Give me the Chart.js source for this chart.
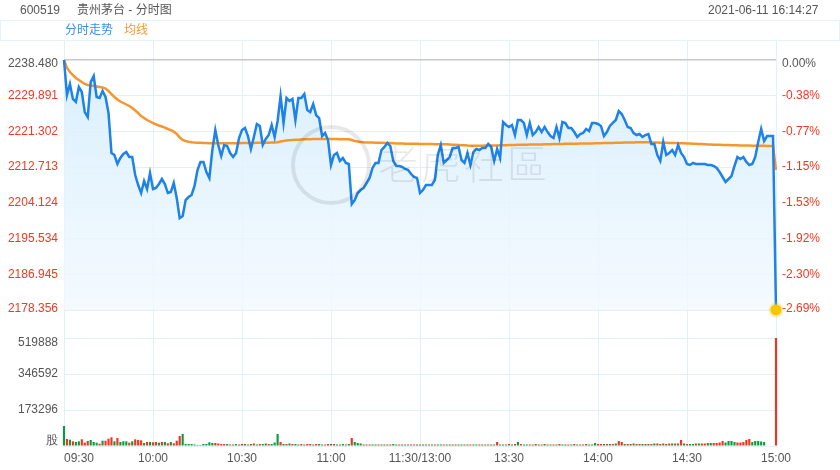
<!DOCTYPE html>
<html><head><meta charset="utf-8">
<script src="https://cdn.jsdelivr.net/npm/chart.js@4.4.1/dist/chart.umd.min.js"></script>
<style>
html,body{margin:0;padding:0;background:#fff;}
#wrap{position:relative;width:840px;height:470px;overflow:hidden;font-family:Arial,"Liberation Sans","Noto Sans CJK SC",sans-serif;}
canvas{position:absolute;left:0;top:0;}
.t{position:absolute;font-size:12px;line-height:14px;white-space:nowrap;}
#legendBar{position:absolute;left:0;top:20px;width:838px;height:19px;border:1px solid #e4f2fa;}
#wmCircle{position:absolute;left:291px;top:125px;width:72px;height:72px;border:4px solid rgba(0,0,0,0.09);border-radius:50%;}
#wmText{position:absolute;left:378px;top:138px;font-size:40px;line-height:48px;letter-spacing:3px;color:rgba(0,0,0,0.09);font-family:"Noto Sans CJK SC",sans-serif;font-weight:300;}
</style></head>
<body><div id="wrap">
<canvas id="c" width="840" height="470"></canvas>
<div id="legendBar"></div>
<div class="t" style="left:20px;top:3px;color:#555">600519</div>
<div class="t" style="left:77px;top:3px;color:#555">贵州茅台 - 分时图</div>
<div class="t" style="left:708px;top:3px;color:#555">2021-06-11 16:14:27</div>
<div class="t" style="left:65px;top:23px;color:#3a8ee6">分时走势</div>
<div class="t" style="left:124px;top:23px;color:#f39c32">均线</div>
<div id="wmCircle"></div>
<div id="wmText">老虎社區</div>
</div>
<script>
const preClose = 2238.48;
const priceTicks = [2238.480, 2229.891, 2221.302, 2212.713, 2204.124, 2195.534, 2186.945, 2178.356];
const pctLabels = ['0.00%', '-0.38%', '-0.77%', '-1.15%', '-1.53%', '-1.92%', '-2.30%', '-2.69%'];
const volTicks = [0, 173296, 346592, 519888];
const volTickLabels = ['股', '173296', '346592', '519888'];
const timeTickLabels = ['09:30', '10:00', '10:30', '11:00', '11:30/13:00', '13:30', '14:00', '14:30', '15:00'];

const price = [
2238.48,2230.06,2232.71,2229.10,2228.38,2231.99,2230.78,2225.97,2224.77,2233.19,
2234.63,2229.58,2229.34,2231.02,2229.58,2225.73,2216.11,2215.63,2213.47,2214.91,
2215.87,2216.35,2215.15,2215.15,2210.82,2208.42,2206.49,2209.38,2207.46,2211.30,
2207.46,2207.70,2208.66,2209.86,2208.66,2206.49,2206.73,2208.90,2205.29,2200.48,
2200.96,2204.81,2205.53,2206.01,2208.18,2212.02,2213.95,2213.95,2211.54,2210.10,
2216.83,2221.64,2218.04,2215.39,2218.04,2217.80,2216.11,2215.15,2216.11,2219.72,
2221.64,2222.13,2220.20,2217.08,2219.96,2223.09,2222.61,2218.04,2219.48,2220.44,
2222.85,2219.96,2223.81,2229.82,2223.33,2229.34,2228.62,2229.10,2224.05,2229.34,
2229.34,2230.30,2226.45,2225.97,2227.90,2225.25,2224.53,2220.20,2220.92,2219.24,
2213.23,2215.63,2216.11,2214.19,2214.91,2213.71,2213.47,2203.85,2204.81,2206.49,
2207.21,2207.70,2208.90,2210.10,2212.51,2213.71,2213.71,2216.83,2217.56,2218.52,
2217.80,2214.19,2212.99,2212.99,2212.75,2212.27,2212.02,2211.06,2210.34,2210.10,
2206.49,2207.21,2208.42,2208.42,2208.42,2209.62,2215.63,2218.04,2213.71,2214.43,
2215.15,2217.32,2217.32,2217.56,2214.43,2213.71,2216.11,2213.23,2216.35,2217.08,
2216.83,2217.32,2217.32,2218.28,2217.56,2214.19,2217.08,2214.91,2223.57,2222.85,
2222.37,2222.85,2220.44,2224.05,2224.05,2223.33,2220.44,2223.33,2220.44,2221.16,
2222.37,2221.16,2222.37,2221.16,2220.20,2219.72,2222.37,2219.72,2223.57,2223.33,
2222.13,2222.13,2221.16,2219.96,2220.68,2220.92,2221.89,2221.40,2223.33,2223.33,
2223.09,2222.61,2220.20,2221.16,2222.61,2223.33,2224.05,2226.21,2225.49,2224.05,
2222.37,2222.13,2220.92,2220.44,2220.68,2219.96,2220.44,2220.68,2218.28,2218.28,
2215.63,2214.19,2218.76,2215.63,2216.11,2216.83,2215.63,2218.04,2216.11,2215.15,
2213.47,2213.23,2213.71,2213.47,2213.47,2213.47,2213.47,2213.23,2213.23,2212.99,
2212.51,2211.54,2210.34,2209.14,2209.86,2210.58,2212.99,2215.15,2214.67,2215.15,
2213.95,2213.23,2213.47,2215.15,2218.76,2221.89,2219.00,2220.20,2220.20,2220.20,
2178.36];

const avgPrice = [
2238.48,2236.56,2235.59,2234.87,2234.15,2233.67,2233.19,2232.71,2232.47,2232.35,
2232.23,2232.11,2231.99,2231.87,2231.63,2231.02,2230.30,2229.58,2228.98,2228.50,
2228.14,2227.78,2227.42,2226.94,2226.33,2225.73,2225.01,2224.53,2224.05,2223.69,
2223.33,2223.02,2222.73,2222.49,2222.20,2221.89,2221.60,2221.28,2220.68,2219.84,
2219.24,2219.00,2218.83,2218.71,2218.64,2218.59,2218.57,2218.52,2218.52,2218.47,
2218.45,2218.45,2218.45,2218.44,2218.44,2218.44,2218.44,2218.45,2218.45,2218.47,
2218.49,2218.52,2218.52,2218.52,2218.53,2218.55,2218.57,2218.57,2218.58,2218.60,
2218.62,2218.64,2218.69,2218.88,2219.00,2219.10,2219.17,2219.24,2219.28,2219.32,
2219.36,2219.40,2219.42,2219.44,2219.46,2219.48,2219.48,2219.48,2219.48,2219.48,
2219.46,2219.46,2219.46,2219.44,2219.44,2219.42,2219.42,2219.24,2219.00,2218.86,
2218.76,2218.70,2218.66,2218.64,2218.62,2218.60,2218.58,2218.56,2218.54,2218.52,
2218.50,2218.46,2218.42,2218.40,2218.38,2218.36,2218.35,2218.34,2218.33,2218.33,
2218.30,2218.28,2218.27,2218.26,2218.25,2218.24,2218.23,2218.23,2218.22,2218.20,
2218.16,2218.12,2218.08,2218.04,2218.00,2217.95,2217.90,2217.88,2217.88,2217.88,
2217.88,2217.88,2217.89,2217.89,2217.90,2217.90,2217.92,2217.95,2217.98,2218.00,
2218.02,2218.04,2218.06,2218.08,2218.09,2218.10,2218.12,2218.13,2218.14,2218.15,
2218.16,2218.18,2218.20,2218.22,2218.23,2218.25,2218.26,2218.28,2218.30,2218.31,
2218.33,2218.34,2218.35,2218.36,2218.37,2218.38,2218.39,2218.40,2218.42,2218.43,
2218.45,2218.47,2218.49,2218.50,2218.52,2218.54,2218.56,2218.58,2218.60,2218.62,
2218.64,2218.65,2218.66,2218.67,2218.68,2218.69,2218.68,2218.67,2218.66,2218.64,
2218.62,2218.60,2218.58,2218.56,2218.54,2218.52,2218.50,2218.48,2218.46,2218.43,
2218.40,2218.37,2218.34,2218.31,2218.28,2218.25,2218.22,2218.18,2218.14,2218.11,
2218.09,2218.07,2218.05,2218.04,2218.02,2217.99,2217.97,2217.95,2217.93,2217.92,
2217.92,2217.90,2217.88,2217.87,2217.86,2217.85,2217.84,2217.82,2217.81,2217.80,
2212.03];

const volume = [
96300,33700,30300,22600,19300,22600,32300,15900,24100,28900,
19300,15900,11100,25500,25500,35100,41900,22600,38500,19300,
22600,22600,15900,22600,32300,28900,27400,14400,19300,19300,
17800,19300,15900,19300,19300,13000,19300,13000,25500,48100,
57800,9600,9600,9600,7200,4800,4800,9600,9600,17800,
14400,14400,12000,9600,9600,9600,7200,7200,9600,7200,
9600,9600,7200,9600,12000,7200,9600,9600,12000,9600,
9600,16800,57800,19300,9600,9600,12000,9600,9600,7200,
9600,7200,9600,9600,7200,9600,9600,7200,7200,9600,
9600,9600,7200,7200,9600,7200,9600,38500,19300,14400,
12000,7200,7200,7200,7200,7200,7200,7200,7200,7200,
7200,9600,7200,7200,7200,7200,7200,7200,7200,7200,
7200,7200,7200,7200,7200,7200,7200,7200,7200,7200,
7200,7200,7200,7200,7200,7200,7200,7200,7200,7200,
7200,7200,7200,7200,7200,7200,19300,7200,7200,7200,
9600,7200,9600,19300,9600,7200,7200,7200,7200,9600,
7200,7200,9600,7200,7200,7200,7200,9600,7200,7200,
7200,7200,9600,7200,7200,7200,9600,7200,7200,14400,
9600,9600,9600,9600,9600,9600,12000,24100,19300,9600,
9600,9600,12000,9600,9600,9600,9600,9600,9600,12000,
12000,9600,12000,9600,12000,12000,12000,12000,28900,12000,
9600,9600,9600,12000,12000,12000,12000,14400,14400,14400,
14400,16800,24100,16800,24100,24100,19300,16800,16800,19300,
28900,33700,19300,24100,24100,21700,19300,0,0,0,
519888];

const volDir = [
-1,1,-1,1,-1,-1,1,1,1,-1,
-1,-1,1,-1,1,1,1,-1,1,-1,
-1,-1,1,-1,1,1,1,-1,1,-1,
1,1,-1,1,-1,1,-1,1,1,1,
-1,-1,-1,-1,-1,1,1,-1,-1,-1,
-1,1,1,1,1,-1,1,-1,-1,1,
1,-1,1,-1,1,-1,1,-1,-1,1,
-1,-1,-1,1,-1,1,-1,1,-1,-1,
1,-1,1,1,-1,1,-1,-1,1,1,
-1,1,-1,1,-1,1,-1,1,-1,-1,
-1,1,-1,1,-1,-1,1,-1,1,-1,
1,-1,-1,1,-1,1,-1,1,1,-1,
1,-1,-1,1,-1,1,-1,-1,1,-1,
1,-1,1,-1,-1,1,-1,1,-1,-1,
1,-1,1,-1,1,-1,1,-1,1,-1,
1,-1,1,-1,1,-1,-1,1,-1,1,
-1,1,-1,1,-1,1,-1,1,-1,-1,
1,-1,1,-1,1,-1,1,-1,-1,-1,
1,1,-1,1,-1,1,-1,1,1,-1,
1,-1,1,-1,1,-1,1,-1,1,-1,
1,-1,1,-1,1,-1,1,-1,1,-1,
1,-1,-1,1,-1,1,1,-1,-1,1,
1,1,1,-1,-1,-1,-1,1,1,1,
1,1,-1,-1,-1,-1,-1,1,1,1,
1];

// minute category labels 09:30..11:30, 13:01..15:00
const minuteLabels = [];
function addRange(startMin, endMin) {
  for (let m = startMin; m <= endMin; m++) {
    const h = Math.floor(m / 60), mm = m % 60;
    minuteLabels.push(String(h).padStart(2, '0') + ':' + String(mm).padStart(2, '0'));
  }
}
addRange(9 * 60 + 30, 11 * 60 + 30);
addRange(13 * 60 + 1, 15 * 60);

// panel geometry inside the 406px chart area
const AREA_H = 406, PRICE_TOP = 20, PRICE_H = 250, VOL_H = 108;
const PRICE_STACK = PRICE_TOP + PRICE_H, VOL_STACK = AREA_H - PRICE_STACK;
const pxPrice = (priceTicks[0] - priceTicks[priceTicks.length - 1]) / PRICE_H;
const yMax = priceTicks[0] + PRICE_TOP * pxPrice;
const yMinPanel = priceTicks[priceTicks.length - 1];
const yMinFull = priceTicks[0] - (AREA_H - PRICE_TOP) * pxPrice;
const vMax = volTicks[volTicks.length - 1] * VOL_STACK / VOL_H;

const FONT = 'Arial, "Liberation Sans", sans-serif';
Chart.defaults.font.family = FONT;
Chart.defaults.font.size = 12;
const GRID = '#e3f0f7';
const RED = '#ee3a22';
const GRAY = '#555';

// edge labels are nudged inward (down at the top of a panel, up at the bottom)
// using a two-line label whose empty line has the given line height
function nudge(text, px) {
  if (!px) return text;
  return px > 0 ? ['', text] : [text, ''];
}
function nudgeFont(px) {
  return px ? { family: FONT, size: 12, lineHeight: (Math.abs(px) * 2) + 'px' } : { family: FONT, size: 12 };
}
const priceNudge = i => i === 0 ? 3.3 : (i === priceTicks.length - 1 ? -1.5 : 0);
const volNudge = i => i === volTicks.length - 1 ? 4.8 : (i === 0 ? -5.5 : 0);

const lastIdx = price.length - 1;

new Chart(document.getElementById('c'), {
  type: 'bar',
  data: {
    labels: minuteLabels,
    datasets: [
      {
        type: 'line', label: '分时走势', data: price, yAxisID: 'y', order: 0, clip: 10,
        borderColor: '#1f82e8', borderWidth: 2.5, tension: 0,
        pointRadius: ctx => ctx.dataIndex === lastIdx ? 5.5 : 0,
        pointBackgroundColor: '#f6c800',
        pointBorderColor: 'rgba(246,200,0,0.3)',
        pointBorderWidth: 4,
        fill: { value: yMinPanel },
        backgroundColor: ctx => {
          const ch = ctx.chart; const a = ch.chartArea;
          if (!a) return 'rgba(220,240,252,0.6)';
          const ys = ch.scales.y;
          const g = ch.ctx.createLinearGradient(0, ys.getPixelForValue(priceTicks[0]), 0, ys.getPixelForValue(yMinPanel));
          g.addColorStop(0, 'rgba(214,238,253,0.95)');
          g.addColorStop(1, 'rgba(242,249,254,0.8)');
          return g;
        }
      },
      {
        type: 'line', label: '均线', data: avgPrice, yAxisID: 'y', order: 1,
        borderColor: '#f7962c', borderWidth: 2.5, tension: 0, pointRadius: 0, fill: false
      },
      {
        type: 'bar', label: '成交量', data: volume, yAxisID: 'yv', order: 2,
        backgroundColor: ctx => volDir[ctx.dataIndex] > 0 ? '#f2331d' : '#0a9b3c',
        barPercentage: 0.72, categoryPercentage: 1, clip: false
      }
    ]
  },
  options: {
    responsive: false, animation: false, events: [],
    layout: { padding: { top: 40, left: 0, right: 0, bottom: 0 } },
    plugins: { legend: { display: false }, tooltip: { enabled: false }, filler: { drawTime: 'beforeDatasetsDraw' } },
    scales: {
      x: {
        type: 'category', offset: false,
        grid: { color: GRID, drawTicks: false, offset: false },
        border: { display: false },
        ticks: {
          autoSkip: false, maxRotation: 0, minRotation: 0, padding: 5, color: GRAY,
          callback: (v, i) => i % 30 === 0 ? (i === 0 ? '         ' + timeTickLabels[0] : timeTickLabels[i / 30]) : null
        },
        afterFit: s => { s.height = 24; }
      },
      y: {
        position: 'left', stack: 'left', stackWeight: PRICE_STACK, weight: 1,
        min: yMinPanel, max: yMax,
        afterBuildTicks: s => { s.ticks = priceTicks.map(v => ({ value: v })); },
        grid: {
          drawTicks: false,
          color: ctx => ctx.tick && ctx.tick.value === preClose ? '#c8c8c8' : GRID,
          lineWidth: ctx => ctx.tick && ctx.tick.value === preClose ? 1.5 : 1
        },
        border: { display: false },
        ticks: {
          autoSkip: false, padding: 6,
          color: ctx => ctx.tick && ctx.tick.value === preClose ? GRAY : RED,
          font: ctx => nudgeFont(priceNudge(ctx.index)),
          callback: (v, i) => nudge(v.toFixed(3), priceNudge(i))
        },
        afterFit: s => { s.width = 64; }
      },
      yv: {
        position: 'left', stack: 'left', stackWeight: VOL_STACK, weight: 0,
        min: 0, max: vMax,
        afterBuildTicks: s => { s.ticks = volTicks.map(v => ({ value: v })); },
        grid: { drawTicks: false, color: GRID },
        border: { display: false },
        ticks: {
          autoSkip: false, padding: 6, color: GRAY,
          font: ctx => nudgeFont(volNudge(ctx.index)),
          callback: (v, i) => nudge(volTickLabels[i], volNudge(i))
        },
        afterFit: s => { s.width = 64; }
      },
      yr: {
        position: 'right', min: yMinFull, max: yMax,
        afterBuildTicks: s => { s.ticks = priceTicks.map(v => ({ value: v })); },
        grid: { drawOnChartArea: false, drawTicks: false },
        border: { display: false },
        ticks: {
          autoSkip: false, padding: 6,
          color: ctx => ctx.index === 0 ? GRAY : RED,
          font: ctx => nudgeFont(priceNudge(ctx.index)),
          callback: (v, i) => nudge(pctLabels[i], priceNudge(i))
        },
        afterFit: s => { s.width = 64; }
      }
    }
  }
});
</script>
</body></html>
